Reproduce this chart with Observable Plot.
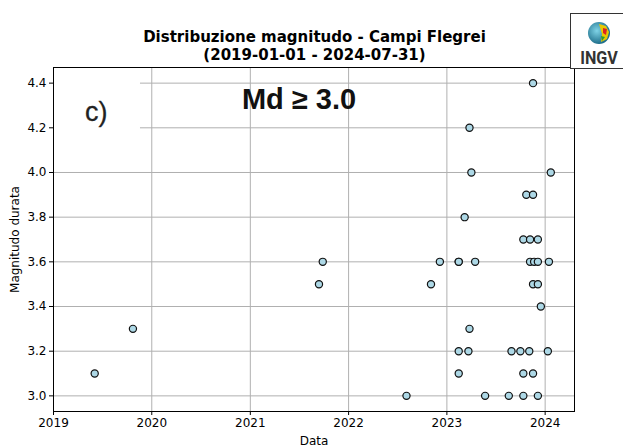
<!DOCTYPE html>
<html>
<head>
<meta charset="utf-8">
<script src="https://cdn.jsdelivr.net/npm/d3@7"></script>
<script src="https://cdn.jsdelivr.net/npm/@observablehq/plot@0.6"></script>
<style>
  html, body { margin: 0; padding: 0; background: #fff; }
  #wrap { position: relative; width: 623px; height: 448px; overflow: hidden; background: #fff; }
  #title { width: 623px; height: 32px; padding-top: 28px; text-align: center;
           font: bold 15px "DejaVu Sans", sans-serif; line-height: 18px; color: #000;
           box-sizing: content-box; padding-left: 3px; overflow: visible; }
  #logo { position: absolute; left: 570px; top: 13px; width: 60px; height: 56px;
          border: 1px solid #333; background: #fff; box-sizing: border-box; }
  #logo .txt { position: absolute; left: 0; width: 56px; top: 35px; text-align: center;
               font: bold 19px "Liberation Sans Narrow", "Roboto", sans-serif; color: #333; line-height: 18px;
               transform: scaleX(0.85); }
  svg { display: block; }
</style>
</head>
<body>
<div id="wrap">
  <div id="title">Distribuzione magnitudo - Campi Flegrei<br>(2019-01-01 - 2024-07-31)</div>
  <div id="logo">
    <svg width="30" height="26" style="position:absolute;left:13px;top:6px" viewBox="0 0 30 26">
      <defs><radialGradient id="g" cx="40%" cy="40%" r="60%"><stop offset="0" stop-color="#7fd3e6"/><stop offset="1" stop-color="#1f6f8b"/></radialGradient></defs>
      <circle cx="15" cy="13" r="11" fill="url(#g)"/>
      <path d="M15 4 L22 6 L25 12 L23 19 L17 22 L18 14 Z" fill="#e8c800"/>
      <path d="M19 8 L23 9 L22 15 L19 13 Z" fill="#d22"/>
      <path d="M17 16 L21 17 L18 21 Z" fill="#2a9a3a"/>
    </svg>
    <div class="txt">INGV</div>
  </div>
  <div id="chart"></div>
</div>
<script>
// Event magnitudes (Md) and approximate dates
const dates = [
  "2019-06-03","2019-10-23",
  "2021-09-13","2021-09-27",
  "2022-08-04","2022-11-03","2022-12-06",
  "2023-02-14","2023-02-14","2023-02-14","2023-02-14",
  "2023-03-08","2023-03-22","2023-03-26","2023-03-26","2023-04-02","2023-04-16",
  "2023-05-23","2023-08-19","2023-08-29","2023-10-01",
  "2023-10-12","2023-10-12","2023-10-12",
  "2023-10-23",
  "2023-11-03","2023-11-06","2023-11-06",
  "2023-11-17","2023-11-17","2023-11-17","2023-11-17","2023-11-21",
  "2023-12-05","2023-12-05","2023-12-05","2023-12-05",
  "2023-12-16","2024-01-11","2024-01-15","2024-01-22"
];
const magnitudes = [
  3.1, 3.3,
  3.5, 3.6,
  3.0, 3.5, 3.6,
  3.6, 3.2, 3.1, 3.6,
  3.8, 3.2, 4.2, 3.3, 4.0, 3.6,
  3.0, 3.0, 3.2, 3.2,
  3.7, 3.1, 3.0,
  3.9,
  3.2, 3.6, 3.7,
  4.4, 3.9, 3.5, 3.1, 3.6,
  3.7, 3.5, 3.0, 3.6,
  3.4, 3.2, 3.6, 4.0
];
const yTicks = [3.0, 3.2, 3.4, 3.6, 3.8, 4.0, 4.2, 4.4];
const xTicks = ["2019-01-01","2020-01-01","2021-01-01","2022-01-01","2023-01-01","2024-01-01"];
const xDomain = ["2019-01-01", "2024-04-19"];
const yDomain = [2.93, 4.47];
// annotations (in data coordinates)
const panelLabel = {date: "2019-06-09", y: 4.267, text: "c)"};
const thresholdLabel = {date: "2021-07-01", y: 4.327, text: "Md ≥ 3.0"};
const panelBox = {x1: "2019-01-01", x2: "2019-11-20", y1: 4.07, y2: 4.45};

const parse = d3.utcParse("%Y-%m-%d");
const data = dates.map((d, i) => ({date: parse(d), md: magnitudes[i]}));

const chart = Plot.plot({
  width: 623,
  height: 388,
  marginTop: 7,
  marginLeft: 53,
  marginRight: 49,
  marginBottom: 37,
  style: {fontFamily: "'DejaVu Sans', sans-serif", fontSize: "12px", color: "#000", background: "#fff"},
  x: {type: "utc", domain: xDomain.map(parse)},
  y: {domain: yDomain},
  marks: [
    Plot.gridX(xTicks.map(parse), {stroke: "#b0b0b0", strokeOpacity: 1, strokeWidth: 1}),
    Plot.gridY(yTicks, {stroke: "#b0b0b0", strokeOpacity: 1, strokeWidth: 1}),
    Plot.rect([panelBox], {x1: d => parse(d.x1), x2: d => parse(d.x2), y1: "y1", y2: "y2", fill: "white"}),
    Plot.dot(data, {x: "date", y: "md", r: 3.6, fill: "#add8e6", stroke: "#111", strokeWidth: 1.2}),
    Plot.frame({stroke: "#000", strokeWidth: 1}),
    Plot.axisX(xTicks.map(parse), {tickFormat: d3.utcFormat("%Y"), tickSize: 4, tickPadding: 3,
      label: "Data", labelAnchor: "center", labelArrow: "none", labelOffset: 33, fontSize: 12}),
    Plot.axisY(yTicks, {tickFormat: d3.format(".1f"), tickSize: 4, tickPadding: 3,
      label: "Magnitudo durata", labelAnchor: "center", labelArrow: "none", labelOffset: 43, fontSize: 12}),
    Plot.text([panelLabel], {x: d => parse(d.date), y: "y", text: "text", fontSize: 27,
      fontFamily: "'Liberation Sans Narrow', 'Liberation Sans', sans-serif", fill: "#222",
      stroke: "#222", strokeWidth: 0.3, textAnchor: "middle"}),
    Plot.text([thresholdLabel], {x: d => parse(d.date), y: "y", text: "text", fontSize: 29, fontWeight: "bold",
      fontFamily: "'Liberation Sans', Arial, sans-serif", fill: "#111", textAnchor: "middle"})
  ]
});
document.getElementById("chart").appendChild(chart);
</script>
</body>
</html>
